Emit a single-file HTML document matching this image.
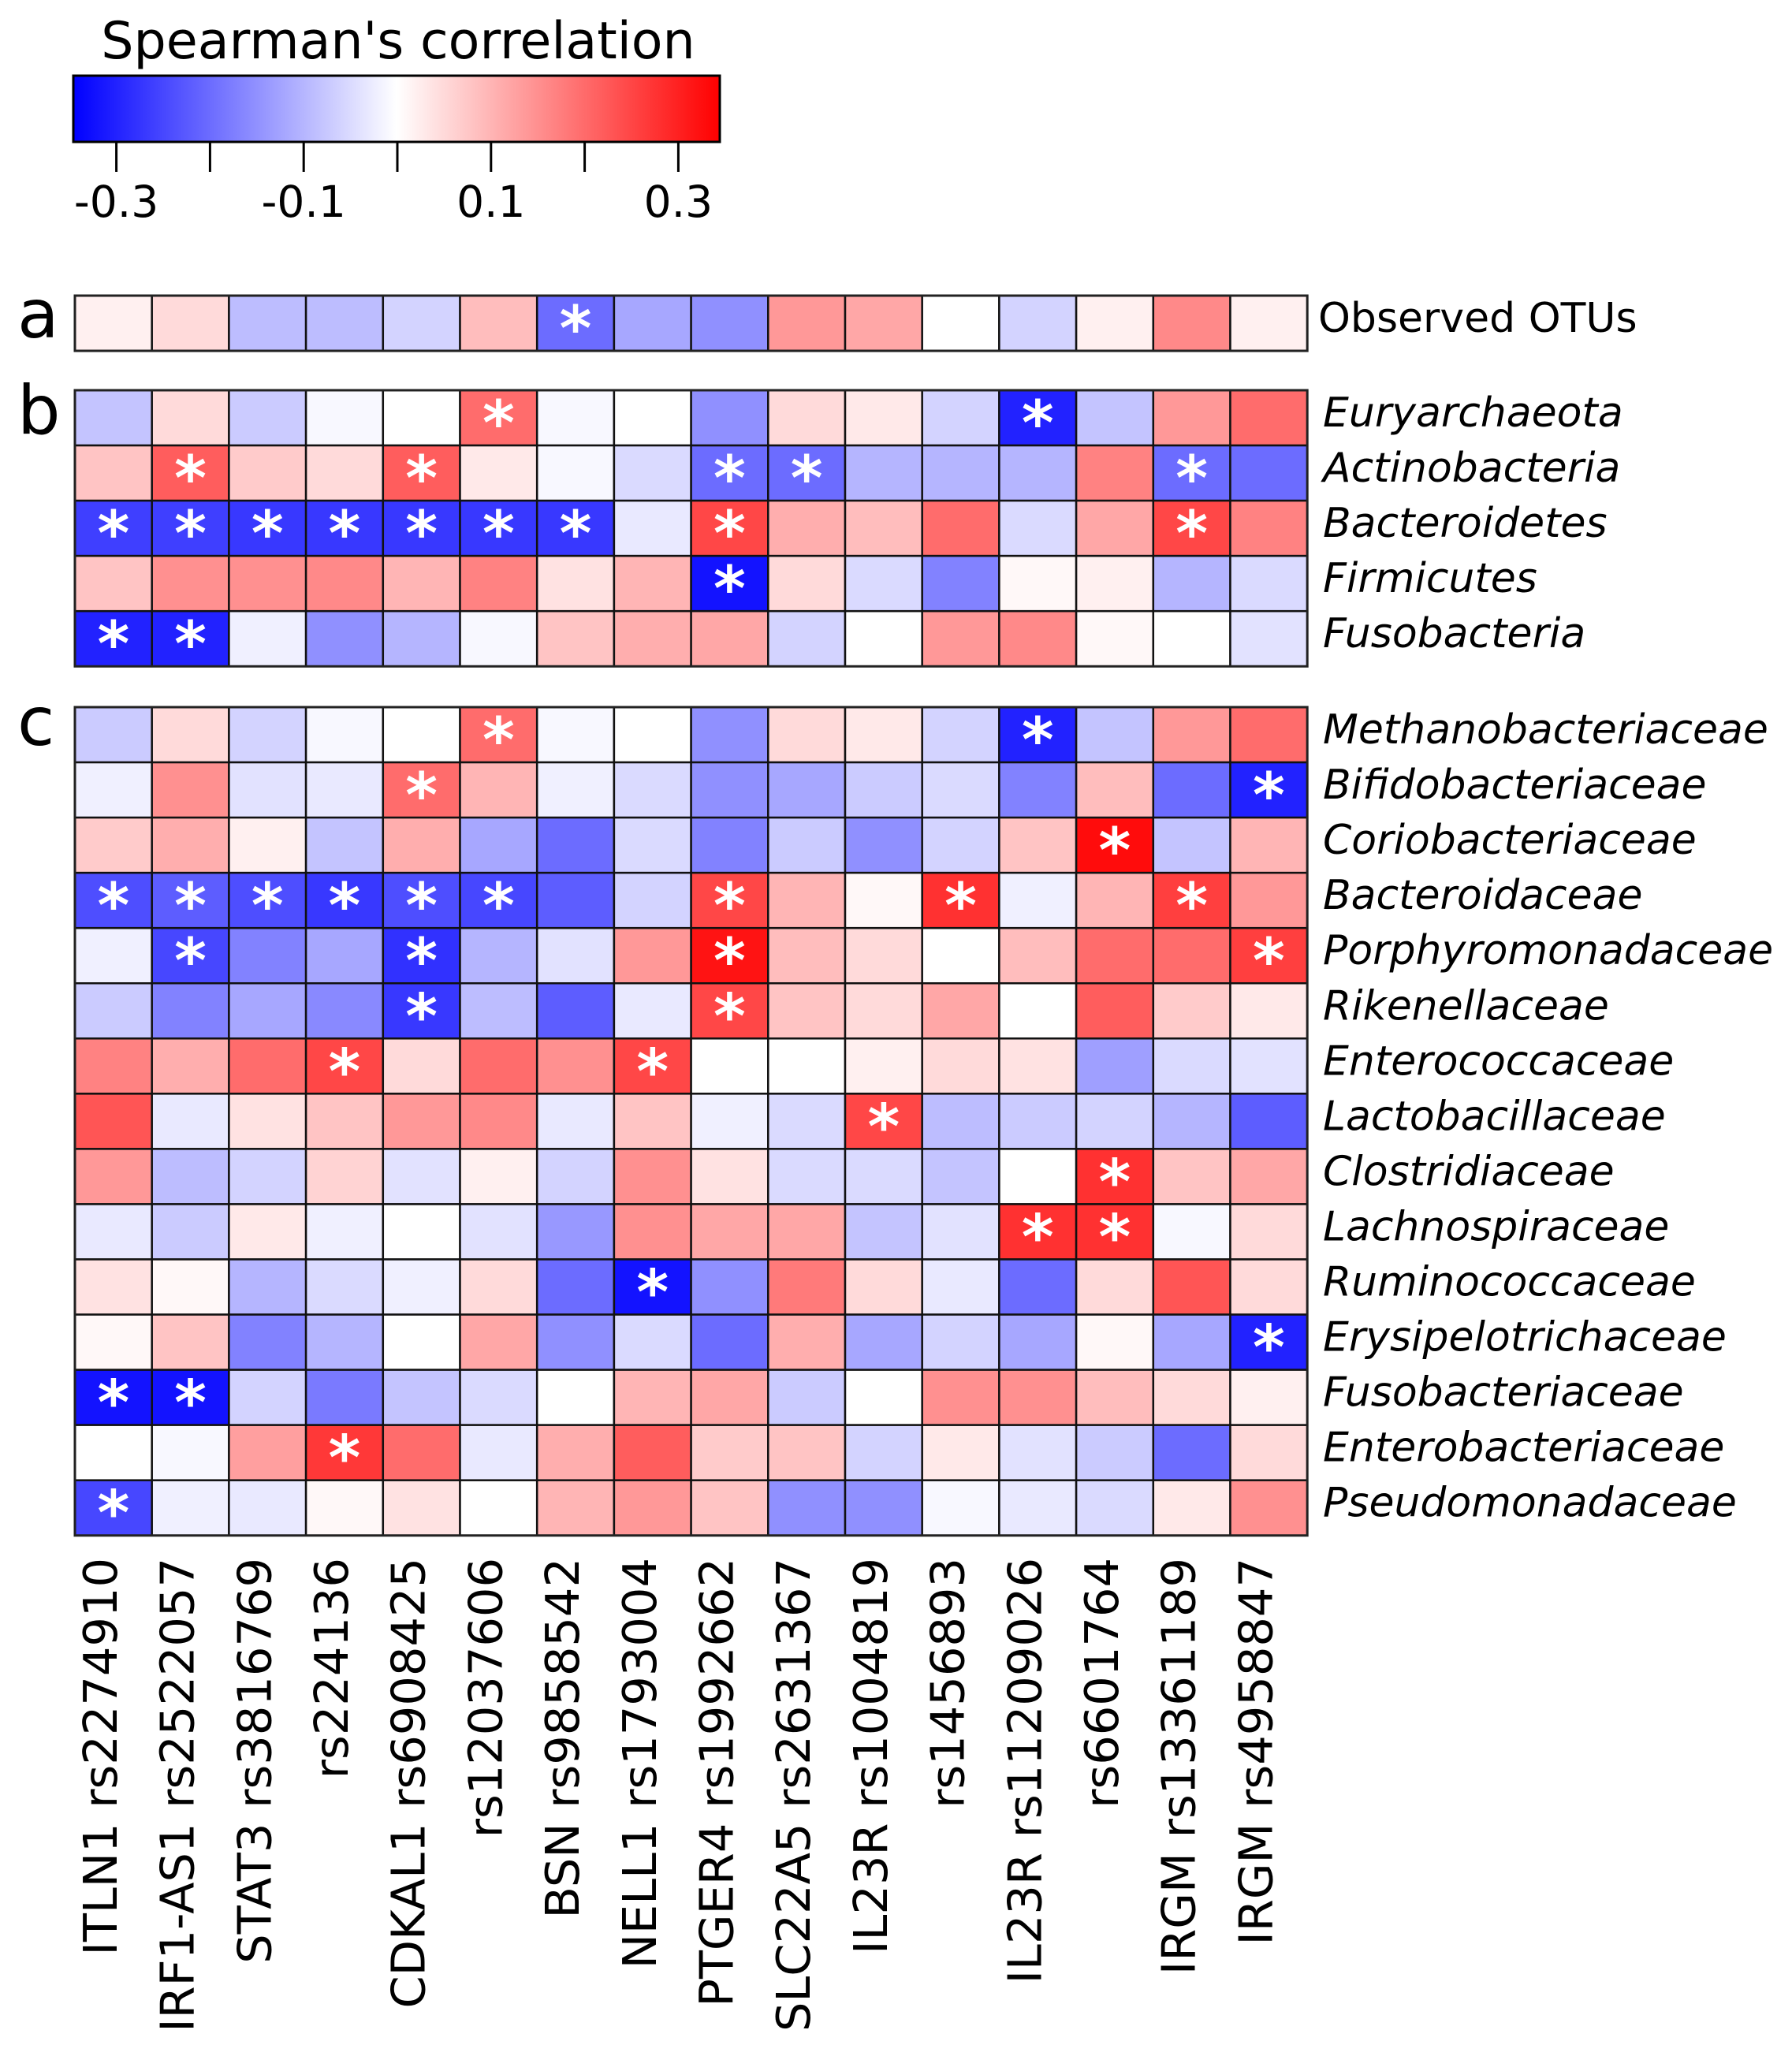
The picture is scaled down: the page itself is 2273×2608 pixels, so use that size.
<!DOCTYPE html>
<html><head><meta charset="utf-8"><style>
html,body{margin:0;padding:0;background:#fff;}
svg{display:block;font-family:"DejaVu Sans","Liberation Sans",sans-serif;}
</style></head><body>
<svg id="chart" width="2273" height="2608" viewBox="0 0 2273 2608" xmlns="http://www.w3.org/2000/svg">
<defs>
<linearGradient id="cg" x1="0" x2="1" y1="0" y2="0">
<stop offset="0" stop-color="rgb(0,0,255)"/><stop offset="0.5" stop-color="#fff"/><stop offset="1" stop-color="rgb(255,0,0)"/>
</linearGradient>
</defs>
<text x="505" y="74" font-size="65" text-anchor="middle">Spearman's correlation</text>
<rect x="93" y="96" width="820" height="84" fill="url(#cg)" stroke="#000" stroke-width="3"/>
<g id="cbticks"></g>
<text x="22" y="428" font-size="86">a</text>
<text x="22" y="550" font-size="86">b</text>
<text x="22" y="945" font-size="86">c</text>
<g id="cells"></g>
<g id="labels"></g>
</svg>
<script>
const columns=["ITLN1 rs2274910","IRF1-AS1 rs2522057","STAT3 rs3816769","rs224136","CDKAL1 rs6908425","rs12037606","BSN rs9858542","NELL1 rs1793004","PTGER4 rs1992662","SLC22A5 rs2631367","IL23R rs1004819","rs1456893","IL23R rs11209026","rs6601764","IRGM rs13361189","IRGM rs4958847"];
const cbTicks=[-0.3,-0.2,-0.1,0,0.1,0.2,0.3];
const cbTickLabels=["-0.3","","-0.1","","0.1","","0.3"];
const rowsA=["Observed OTUs"];
const valsA=[[0.02,0.05,-0.09,-0.09,-0.06,0.09,-0.2,-0.12,-0.15,0.14,0.12,0,-0.06,0.02,0.16,0.02]];
const sigA=[[0,0,0,0,0,0,1,0,0,0,0,0,0,0,0,0]];
const rowsB=["Euryarchaeota","Actinobacteria","Bacteroidetes","Firmicutes","Fusobacteria"];
const valsB=[
[-0.08,0.05,-0.07,-0.01,0,0.2,-0.01,0,-0.15,0.05,0.03,-0.06,-0.3,-0.08,0.14,0.2],
[0.08,0.22,0.07,0.05,0.22,0.03,-0.01,-0.05,-0.2,-0.2,-0.1,-0.1,-0.1,0.17,-0.2,-0.2],
[-0.26,-0.26,-0.27,-0.27,-0.27,-0.27,-0.27,-0.03,0.25,0.11,0.09,0.2,-0.05,0.12,0.25,0.17],
[0.08,0.15,0.15,0.16,0.1,0.17,0.04,0.1,-0.32,0.05,-0.05,-0.17,0.01,0.02,-0.1,-0.05],
[-0.3,-0.3,-0.02,-0.15,-0.1,-0.01,0.08,0.11,0.12,-0.06,0,0.14,0.16,0.01,0,-0.04]];
const sigB=[
[0,0,0,0,0,1,0,0,0,0,0,0,1,0,0,0],
[0,1,0,0,1,0,0,0,1,1,0,0,0,0,1,0],
[1,1,1,1,1,1,1,0,1,0,0,0,0,0,1,0],
[0,0,0,0,0,0,0,0,1,0,0,0,0,0,0,0],
[1,1,0,0,0,0,0,0,0,0,0,0,0,0,0,0]];
const rowsC=["Methanobacteriaceae","Bifidobacteriaceae","Coriobacteriaceae","Bacteroidaceae","Porphyromonadaceae","Rikenellaceae","Enterococcaceae","Lactobacillaceae","Clostridiaceae","Lachnospiraceae","Ruminococcaceae","Erysipelotrichaceae","Fusobacteriaceae","Enterobacteriaceae","Pseudomonadaceae"];
const valsC=[
[-0.07,0.05,-0.06,-0.01,0,0.2,-0.01,0,-0.15,0.05,0.03,-0.06,-0.3,-0.08,0.14,0.2],
[-0.02,0.15,-0.04,-0.03,0.2,0.1,-0.02,-0.05,-0.15,-0.12,-0.07,-0.05,-0.17,0.09,-0.2,-0.3],
[0.07,0.11,0.02,-0.08,0.11,-0.12,-0.2,-0.05,-0.17,-0.07,-0.15,-0.06,0.08,0.33,-0.08,0.1],
[-0.24,-0.22,-0.24,-0.27,-0.24,-0.25,-0.22,-0.06,0.25,0.1,0.01,0.28,-0.02,0.1,0.26,0.14],
[-0.02,-0.25,-0.17,-0.12,-0.28,-0.1,-0.04,0.14,0.32,0.09,0.05,0,0.09,0.2,0.2,0.26],
[-0.07,-0.17,-0.12,-0.16,-0.27,-0.09,-0.22,-0.03,0.25,0.08,0.05,0.12,0,0.22,0.07,0.03],
[0.17,0.11,0.2,0.25,0.05,0.2,0.15,0.25,0,0,0.02,0.05,0.04,-0.13,-0.05,-0.04],
[0.23,-0.03,0.04,0.08,0.14,0.16,-0.03,0.08,-0.02,-0.05,0.25,-0.09,-0.07,-0.06,-0.1,-0.22],
[0.14,-0.09,-0.06,0.06,-0.04,0.02,-0.06,0.15,0.04,-0.05,-0.05,-0.08,0,0.28,0.08,0.12],
[-0.03,-0.07,0.03,-0.02,0,-0.04,-0.14,0.15,0.12,0.12,-0.08,-0.04,0.28,0.28,-0.01,0.05],
[0.04,0.01,-0.1,-0.05,-0.02,0.05,-0.2,-0.32,-0.15,0.18,0.05,-0.03,-0.2,0.05,0.23,0.05],
[0.01,0.08,-0.17,-0.1,0,0.12,-0.15,-0.05,-0.2,0.11,-0.12,-0.06,-0.12,0.01,-0.12,-0.3],
[-0.32,-0.32,-0.06,-0.18,-0.08,-0.05,0,0.1,0.12,-0.07,0,0.15,0.15,0.09,0.05,0.02],
[0,-0.01,0.13,0.27,0.2,-0.03,0.11,0.22,0.07,0.08,-0.06,0.03,-0.04,-0.07,-0.2,0.05],
[-0.25,-0.02,-0.03,0.01,0.04,0,0.1,0.14,0.08,-0.15,-0.15,-0.01,-0.03,-0.05,0.03,0.15]];
const sigC=[
[0,0,0,0,0,1,0,0,0,0,0,0,1,0,0,0],
[0,0,0,0,1,0,0,0,0,0,0,0,0,0,0,1],
[0,0,0,0,0,0,0,0,0,0,0,0,0,1,0,0],
[1,1,1,1,1,1,0,0,1,0,0,1,0,0,1,0],
[0,1,0,0,1,0,0,0,1,0,0,0,0,0,0,1],
[0,0,0,0,1,0,0,0,1,0,0,0,0,0,0,0],
[0,0,0,1,0,0,0,1,0,0,0,0,0,0,0,0],
[0,0,0,0,0,0,0,0,0,0,1,0,0,0,0,0],
[0,0,0,0,0,0,0,0,0,0,0,0,0,1,0,0],
[0,0,0,0,0,0,0,0,0,0,0,0,1,1,0,0],
[0,0,0,0,0,0,0,1,0,0,0,0,0,0,0,0],
[0,0,0,0,0,0,0,0,0,0,0,0,0,0,0,1],
[1,1,0,0,0,0,0,0,0,0,0,0,0,0,0,0],
[0,0,0,1,0,0,0,0,0,0,0,0,0,0,0,0],
[1,0,0,0,0,0,0,0,0,0,0,0,0,0,0,0]];

const NS="http://www.w3.org/2000/svg";
const X0=95,CW=97.7,RH=70.05,VMAX=0.346;
const cbX=v=>504+v*1188;
const colX=i=>X0+i*CW;
function color(v){const t=Math.min(1,Math.abs(v)/VMAX);const c=Math.round(255*(1-t));return v>=0?`rgb(255,${c},${c})`:`rgb(${c},${c},255)`;}
function mk(tag,attrs,parent){const e=document.createElementNS(NS,tag);for(const k in attrs)e.setAttribute(k,attrs[k]);parent.appendChild(e);return e;}
const cb=document.getElementById('cbticks');
cbTicks.forEach((t,i)=>{
  const l=mk('line',{x1:cbX(t),x2:cbX(t),y1:180,y2:218,stroke:'#000','stroke-width':3},cb);
  
  
  if(cbTickLabels[i]){const tx=mk('text',{x:cbX(t),y:275,'font-size':55,'text-anchor':'middle'},cb);tx.textContent=cbTickLabels[i];
  
  }
});
const cells=document.getElementById('cells'),labels=document.getElementById('labels');
function panel(rows,vals,sig,y0,italic,lx){
  rows.forEach((r,ri)=>{
    const y=y0+ri*RH;
    vals[ri].forEach((v,ci)=>{
      const rc=mk('rect',{x:colX(ci),y:y,width:CW,height:RH,fill:color(v),stroke:'#111','stroke-width':2.5},cells);
      
      
      if(sig[ri][ci]){const s=mk('text',{x:colX(ci)+CW/2,y:y+RH/2+34,'font-size':78,'text-anchor':'middle',fill:'#fff','font-weight':'bold'},cells);s.textContent='*';
      
      }
    });
    const t=mk('text',{x:lx,y:y+RH/2+11,'font-size':52,'font-style':italic?'italic':'normal'},labels);
    t.textContent=r;
    
    
  });
  const b=mk('rect',{x:X0,y:y0,width:CW*16,height:RH*rows.length,fill:'none',stroke:'#222','stroke-width':3},cells);
  
  
}
panel(rowsA,valsA,sigA,375,false,1672);
panel(rowsB,valsB,sigB,495,true,1678);
panel(rowsC,valsC,sigC,897,true,1678);
columns.forEach((c,i)=>{
  const cx=colX(i)+CW/2+4;
  const t=mk('text',{x:cx,y:1976,'font-size':59,'text-anchor':'end',transform:`rotate(-90 ${cx} 1976)`},labels);
  t.textContent=c;
  
  
});
</script>
</body></html>
